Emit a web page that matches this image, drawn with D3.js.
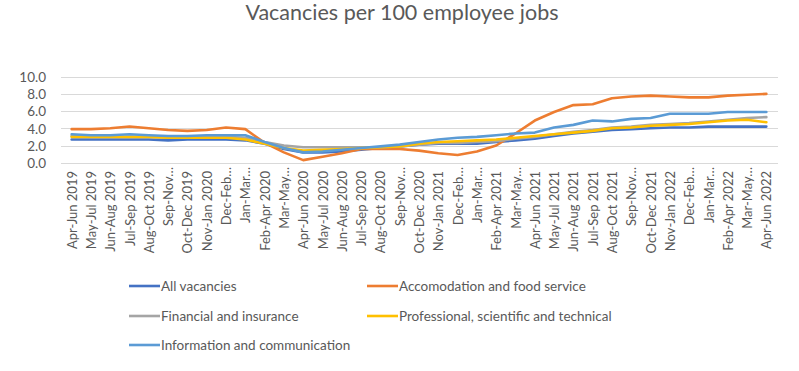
<!DOCTYPE html>
<html>
<head>
<meta charset="utf-8">
<script src="https://cdn.jsdelivr.net/npm/d3@7"></script>
<style>
  html, body { margin: 0; padding: 0; background: #fff; }
  svg { display: block; }
  text { font-family: "Lato", "Open Sans", sans-serif; }
</style>
</head>
<body>
<svg id="chart" width="799" height="371"></svg>
<script>
const categories = [
  "Apr-Jun 2019","May-Jul 2019","Jun-Aug 2019","Jul-Sep 2019","Aug-Oct 2019","Sep-Nov…",
  "Oct-Dec 2019","Nov-Jan 2020","Dec-Feb…","Jan-Mar…","Feb-Apr 2020","Mar-May…",
  "Apr-Jun 2020","May-Jul 2020","Jun-Aug 2020","Jul-Sep 2020","Aug-Oct 2020","Sep-Nov…",
  "Oct-Dec 2020","Nov-Jan 2021","Dec-Feb…","Jan-Mar…","Feb-Apr 2021","Mar-May…",
  "Apr-Jun 2021","May-Jul 2021","Jun-Aug 2021","Jul-Sep 2021","Aug-Oct 2021","Sep-Nov…",
  "Oct-Dec 2021","Nov-Jan 2022","Dec-Feb…","Jan-Mar…","Feb-Apr 2022","Mar-May…",
  "Apr-Jun 2022"
];

const allVacancies = [2.7,2.7,2.7,2.7,2.7,2.6,2.7,2.7,2.7,2.6,2.2,1.6,1.2,1.2,1.3,1.5,1.7,1.9,2.1,2.2,2.2,2.2,2.4,2.6,2.8,3.1,3.4,3.6,3.8,3.9,4.0,4.1,4.1,4.2,4.2,4.2,4.2];
const accommodation = [3.9,3.9,4.0,4.2,4.0,3.8,3.7,3.8,4.1,3.9,2.3,1.2,0.3,0.7,1.1,1.6,1.6,1.6,1.4,1.1,0.9,1.3,2.0,3.4,4.9,5.9,6.7,6.8,7.5,7.7,7.8,7.7,7.6,7.6,7.8,7.9,8.0];
const financial = [3.1,3.0,3.0,3.0,3.0,2.9,2.9,3.0,3.0,2.9,2.4,2.0,1.8,1.8,1.8,1.8,1.8,1.9,2.1,2.3,2.3,2.4,2.5,2.8,3.0,3.3,3.6,3.8,4.1,4.2,4.4,4.5,4.6,4.8,5.0,5.2,5.3];
const professional = [3.0,3.0,3.0,3.0,3.0,2.9,2.9,2.9,2.9,2.7,2.2,1.7,1.4,1.5,1.6,1.7,1.8,1.9,2.2,2.4,2.5,2.6,2.7,2.9,3.1,3.3,3.5,3.7,4.0,4.1,4.3,4.4,4.5,4.7,4.9,5.0,4.7];
const information = [3.3,3.2,3.2,3.3,3.2,3.1,3.1,3.2,3.2,3.2,2.4,1.7,1.2,1.3,1.5,1.7,1.9,2.1,2.4,2.7,2.9,3.0,3.2,3.4,3.5,4.1,4.4,4.9,4.8,5.1,5.2,5.7,5.7,5.7,5.9,5.9,5.9];

const seriesNames = ["All vacancies","Accomodation and food service","Financial and insurance","Professional, scientific and technical","Information and communication"];
const seriesColors = ["#4472C4","#ED7D31","#A5A5A5","#FFC000","#5B9BD5"];
const yTicks = [0,2,4,6,8,10];

const series = [allVacancies, accommodation, financial, professional, information]
  .map((vals, i) => ({ name: seriesNames[i], color: seriesColors[i], values: vals }));

const svg = d3.select("#chart");

const x = d3.scalePoint().domain(categories.map((c, i) => i)).range([62, 776]).padding(0.5);
const y = d3.scaleLinear().domain([0, 10]).range([162.7, 76.7]);

// title
svg.append("text")
  .attr("x", 402).attr("y", 20)
  .attr("text-anchor", "middle")
  .attr("font-size", 21.5)
  .attr("fill", "#595959")
  .text("Vacancies per 100 employee jobs");

// gridlines
svg.append("g").selectAll("line").data(yTicks).join("line")
  .attr("x1", 61).attr("x2", 778)
  .attr("y1", d => Math.round(y(d)) + 0.5).attr("y2", d => Math.round(y(d)) + 0.5)
  .attr("stroke", "#d9d9d9").attr("stroke-width", 1);

// y axis labels
const yAxis = d3.axisLeft(y).tickValues(yTicks).tickFormat(d3.format(".1f")).tickSize(0).tickPadding(0);
const gy = svg.append("g").attr("transform", "translate(46,0)").call(yAxis);
gy.select(".domain").remove();
gy.selectAll("text").attr("font-size", 13.5).attr("fill", "#595959").attr("font-family", "Lato, sans-serif").attr("dy", "0.35em");

// x axis labels
const xAxis = d3.axisBottom(x).tickFormat(i => categories[i]).tickSize(0).tickPadding(0);
const gx = svg.append("g").attr("transform", "translate(0,170)").call(xAxis);
gx.select(".domain").remove();
gx.selectAll("text")
  .attr("font-size", 13)
  .attr("fill", "#595959")
  .attr("font-family", "Lato, sans-serif")
  .attr("text-anchor", "end")
  .attr("transform", "rotate(-90)")
  .attr("x", (d) => categories[d].endsWith("…") ? 3 : -1)
  .attr("y", 0)
  .attr("dy", "0.35em");

// lines
const line = d3.line().x((d, i) => x(i)).y(d => y(d));
svg.append("g").selectAll("path").data(series).join("path")
  .attr("d", d => line(d.values))
  .attr("fill", "none")
  .attr("stroke", d => d.color)
  .attr("stroke-width", 2.6)
  .attr("stroke-linejoin", "round")
  .attr("stroke-linecap", "round");

// legend
const legendPos = [[129, 286], [367, 286], [129, 316], [367, 316], [129, 345]];
const lg = svg.append("g").selectAll("g").data(series).join("g")
  .attr("transform", (d, i) => `translate(${legendPos[i][0]},${legendPos[i][1]})`);
lg.append("line").attr("x1", 0).attr("x2", 31).attr("y1", 0).attr("y2", 0)
  .attr("stroke", d => d.color).attr("stroke-width", 2.6);
lg.append("text").attr("x", 32).attr("y", 0).attr("dy", "0.35em")
  .attr("font-size", 13.5).attr("fill", "#595959")
  .text(d => d.name);
</script>
</body>
</html>
